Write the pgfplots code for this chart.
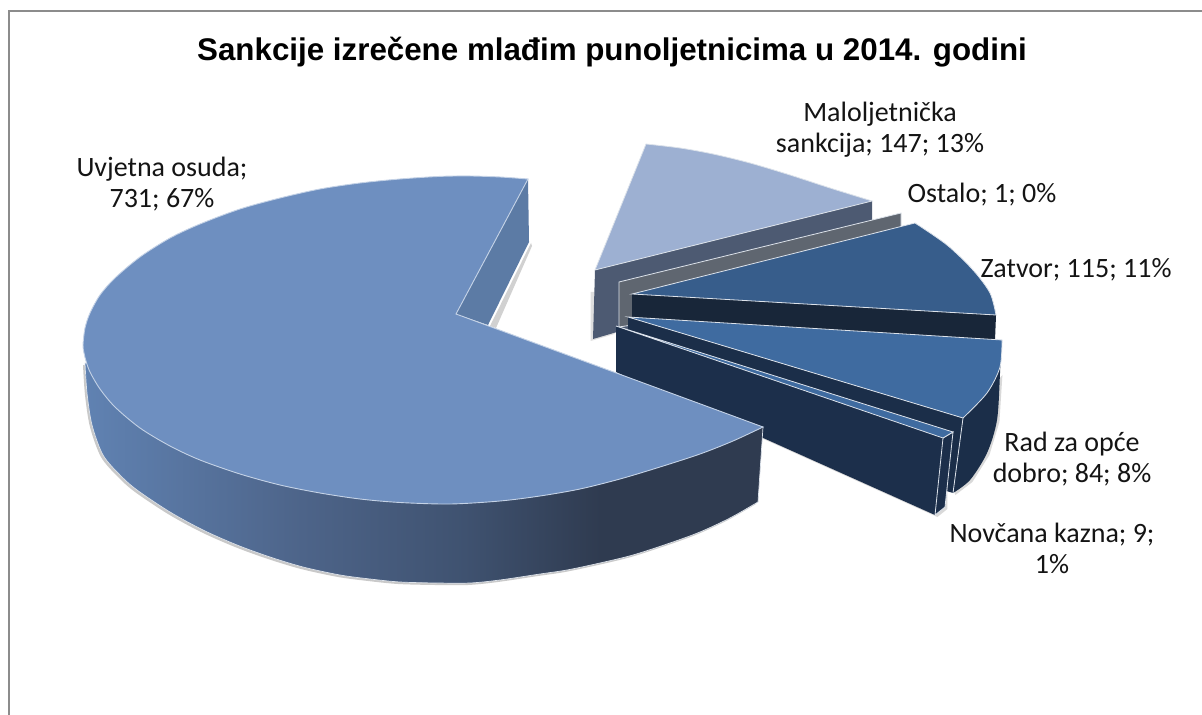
\documentclass[border=0pt]{standalone}
\usepackage{pgfplots}
\pgfplotsset{compat=1.18}
\usepackage{fontspec}
\setmainfont{Carlito}
\newfontfamily\titlefont{Liberation Sans}
\definecolor{frame}{HTML}{8C8C8C}
\definecolor{edge}{HTML}{DCE2EA}
\definecolor{mainTop}{HTML}{6E8FC0}
\definecolor{mainEdge}{HTML}{C4D2E6}
\definecolor{mainWall}{HTML}{5C7BA5}
\definecolor{malTop}{HTML}{9DB0D2}
\definecolor{malWall}{HTML}{4D5A72}
\definecolor{ostWall}{HTML}{5F6670}
\definecolor{zatTop}{HTML}{375D8B}
\definecolor{zatWall}{HTML}{182639}
\definecolor{radTop}{HTML}{3F6BA0}
\definecolor{radWall}{HTML}{1B2E49}
\definecolor{novWall}{HTML}{1C2F4B}
\definecolor{gA}{HTML}{6082B2}
\definecolor{gB}{HTML}{4D6489}
\definecolor{gC}{HTML}{3F5270}
\definecolor{gD}{HTML}{2F3B50}
\definecolor{labtext}{HTML}{141414}
\pgfdeclarehorizontalshading{sidegrad}{100bp}{
 color(0bp)=(gA);
 color(25bp)=(gA);
 color(41bp)=(gB);
 color(53bp)=(gC);
 color(63bp)=(gD);
 color(100bp)=(gD)}
\tikzset{lab/.style={font=\fontsize{14}{15.4}\selectfont, text=labtext, align=center, inner sep=0pt}}
\begin{document}
\begin{tikzpicture}
\useasboundingbox (0,0) rectangle (601pt,357.5pt);
\begin{axis}[
  scale only axis, width=601pt, height=357.5pt,
  xmin=0, xmax=1202, ymin=0, ymax=715, y dir=reverse,
  hide axis, clip=false,
]
% frame
\addplot[draw=frame, line width=1pt] coordinates {(9,715)(9,11)(1202,11)};

% Maloljetnicka sankcija
\addplot[fill=gray!50, draw=none, opacity=0.5, xshift=-1.2pt, yshift=-1pt] coordinates {(593,339)(617,332)(617,290)(593,290)} -- cycle;
\addplot[fill=malWall, draw=none] coordinates {(595,270)(872,201)(872,270)(617,332)(593,339)} -- cycle;
\addplot[smooth, fill=malTop, draw=edge, line width=0.4pt] coordinates {(646,144)(680,148)(713,154)(750,163)(790,175)(830,188)(872,201)} -- (axis cs:595,270) -- cycle;

% Ostalo
\addplot[fill=ostWall, draw=edge, line width=0.4pt] coordinates {(619,282)(901,213)(901,225)(903,260)(632,325)(619,327)} -- cycle;

% Zatvor
\addplot[fill=zatWall, draw=none] coordinates {(632,294)(996,315)(995,340)(632,320)} -- cycle;
\addplot[smooth, fill=zatTop, draw=edge, line width=0.4pt] coordinates {(915,223)(947,245)(973,270)(990,293)(996,315)} -- (axis cs:632,294) -- cycle;

% Rad za opce dobro
\addplot[fill=gray!50, draw=none, opacity=0.6, xshift=1.2pt, yshift=-1pt] coordinates {(1000,373)(997,420)(987,453)(970,480)(953,493)(948,480)(963,418)} -- cycle;
\addplot[fill=radWall, draw=none] coordinates {(628,317)(963,418)(953,493)(943,490)(628,345)} -- cycle;
\addplot[smooth, fill=radWall, draw=none] coordinates {(1001,345)(1000,373)(997,420)(987,453)(970,480)(953,493)} -- (axis cs:963,418) -- cycle;
\addplot[draw=edge, line width=0.4pt] coordinates {(963,418)(953,493)};
\addplot[smooth, fill=radTop, draw=edge, line width=0.4pt] coordinates {(1002,340)(1000,367)(987,393)(963,418)} -- (axis cs:628,317) -- cycle;

% Novcana kazna
\addplot[fill=gray!50, draw=none, opacity=0.6, xshift=1.2pt, yshift=-1pt] coordinates {(616,372)(935,515)(945,507)(945,480)(620,340)} -- cycle;
\addplot[fill=novWall, draw=none] coordinates {(616,326)(943,438)(935,515)(616,372)} -- cycle;
\addplot[fill=novWall, draw=edge, line width=0.4pt] coordinates {(943,438)(953,432)(945,507)(935,515)} -- cycle;
\addplot[fill=radTop, draw=edge, line width=0.4pt] coordinates {(616,326)(953,432)(943,438)} -- cycle;

% Uvjetna osuda
\addplot[fill=gray!60, draw=none, opacity=0.7, xshift=-1pt, yshift=-1pt, smooth] coordinates {(85,363)(87,393)(92,425)(103,455)(120,475)(137,490)(170,512)(203,530)(237,545)(270,557)(303,567)(340,575)(370,579)(400,582)(437,583)(470,583)(500,580)(540,574)(567,570)(600,563)(633,555)(670,543)(700,532)(730,518)(758,502)} -- cycle;
\addplot[fill=gray!60, draw=none, opacity=0.6, xshift=1pt, yshift=-0.5pt] coordinates {(529,242)(488,325)(494,327)(530,245)} -- cycle;
\addplot[fill=mainWall, draw=none] coordinates {(528,179)(529,242)(488,325)(456,314)} -- cycle;
\addplot[smooth, shade, shading=sidegrad, draw=edge, line width=0.35pt] coordinates {(85,363)(87,393)(92,425)(103,455)(120,475)(137,490)(170,512)(203,530)(237,545)(270,557)(303,567)(340,575)(370,579)(400,582)(437,583)(470,583)(500,580)(540,574)(567,570)(600,563)(633,555)(670,543)(700,532)(730,518)(758,502)} -- (axis cs:763,427) -- (axis cs:470,400) -- cycle;
\addplot[smooth, fill=mainTop, draw=mainEdge, line width=0.45pt] coordinates {(528,179)(500,177)(470,176)(440,176.4)(400,179)(360,183)(320,189)(280,198)(240,209)(200,224)(170,238)(140,257)(115,278)(100,295)(90,313)(85,328)(83,345)(84,353)(86,361)(90,372)(100,389)(115,407)(140,428)(170,446)(200,460)(240,474)(280,485)(320,493)(360,499)(400,502.5)(450,504)(500,501)(540,496)(580,489)(620,479)(660,467)(700,454)(733,441)(763,427)} -- (axis cs:456,314) -- cycle;

% labels
\node[text=black, inner sep=0pt, font=\titlefont\bfseries\fontsize{15.66}{18}\selectfont] at (axis cs:612,52) {Sankcije izrečene mlađim punoljetnicima u 2014. godini};
\node[lab] at (axis cs:162,184) {Uvjetna osuda;\\731; 67\%};
\node[lab] at (axis cs:880,130) {Maloljetnička\\sankcija; 147; 13\%};
\node[lab] at (axis cs:982,195) {Ostalo; 1; 0\%};
\node[lab] at (axis cs:1076,270) {Zatvor; 115; 11\%};
\node[lab] at (axis cs:1072,459) {Rad za opće\\dobro; 84; 8\%};
\node[lab] at (axis cs:1052,548) {Novčana kazna; 9;\\1\%};
\end{axis}
\end{tikzpicture}
\end{document}
